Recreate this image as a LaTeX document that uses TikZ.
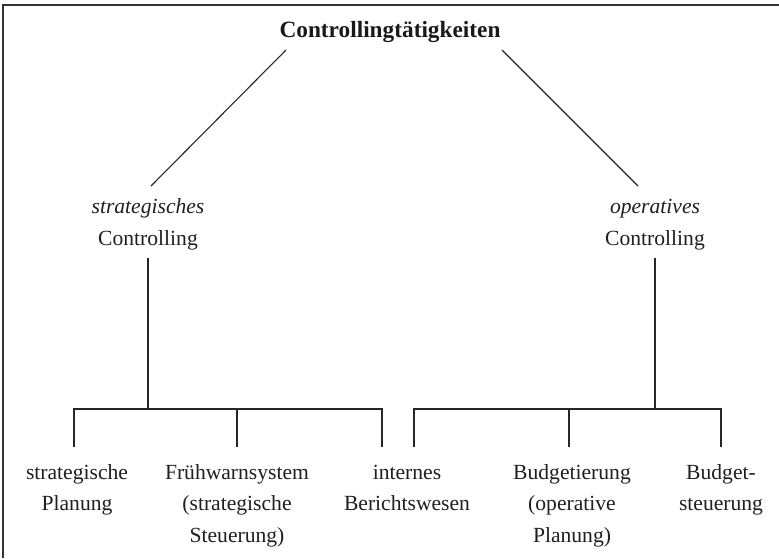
\documentclass[tikz,border=0pt]{standalone}
\usepackage{fontspec}
\setmainfont{Liberation Serif}
\begin{document}
\begin{tikzpicture}[x=1pt,y=-1pt]
\tikzset{
  lbl/.style={font=\fontsize{21.6}{31.5}\selectfont, align=center, inner sep=0pt, text=black!88, anchor=base},
  ttl/.style={font=\fontsize{23.3}{28}\selectfont\bfseries, inner sep=0pt, text=black!90, anchor=base},
  conn/.style={line width=1.1pt, draw=black!85},
  framing/.style={line width=1.6pt, draw=black!80}
}
\useasboundingbox (0,0) rectangle (779,558);

% open frame: top and left edges
\draw[framing] (3,558) -- (3,5) -- (779,5);

% root
\node[ttl] (root) at (390,37) {Controllingtätigkeiten};

% second level (base anchor sits on the last line)
\node[lbl] (strat) at (148,245) {\textit{strategisches}\\Controlling};
\node[lbl] (oper)  at (655,245) {\textit{operatives}\\Controlling};

% leaves (base anchor sits on the last line)
\node[lbl] (plan)  at (77,510.5)  {strategische\\Planung};
\node[lbl] (warn)  at (237,542)   {Frühwarnsystem\\(strategische\\Steuerung)};
\node[lbl] (ber)   at (407,510.5) {internes\\Berichtswesen};
\node[lbl] (budg)  at (572,542)   {Budgetierung\\(operative\\Planung)};
\node[lbl] (bst)   at (721,510.5) {Budget-\\steuerung};

% branch points
\coordinate (rootL) at (286,50);
\coordinate (rootR) at (502,50);
\coordinate (stratT) at (151,186);
\coordinate (operT)  at (638,186);
\coordinate (stratB) at (148,258);
\coordinate (operB)  at (655,258);
\coordinate (barL) at (148,409);
\coordinate (barR) at (655,409);
\coordinate (p1) at (74,447);
\coordinate (p2) at (237,447);
\coordinate (p3) at (382,447);
\coordinate (q1) at (414,447);
\coordinate (q2) at (569,447);
\coordinate (q3) at (721,447);

% connectors
\draw[conn] (rootL) -- (stratT);
\draw[conn] (rootR) -- (operT);
\draw[conn] (stratB) -- (barL);
\draw[conn] (operB) -- (barR);
\draw[conn] (p1) |- (barL) -| (p3);
\draw[conn] (p2) -- (p2 |- barL);
\draw[conn] (q1) |- (barR) -| (q3);
\draw[conn] (q2) -- (q2 |- barR);
\end{tikzpicture}
\end{document}
